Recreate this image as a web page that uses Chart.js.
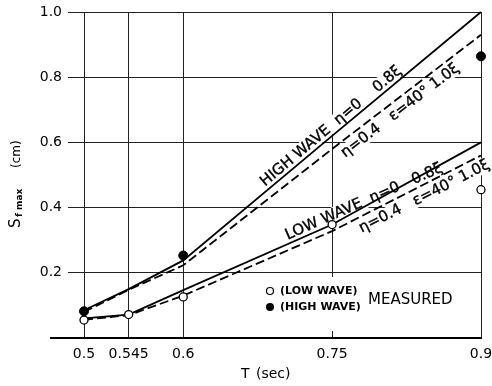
<!DOCTYPE html>
<html>
<head>
<meta charset="utf-8">
<script src="https://cdn.jsdelivr.net/npm/chart.js@4.4.0/dist/chart.umd.min.js"></script>
<style>
  html, body { margin: 0; padding: 0; background: #fff; }
  #wrap { width: 492px; height: 386px; }
</style>
</head>
<body>
<div id="wrap"><canvas id="c" width="492" height="386"></canvas></div>
<script>
// T (sec) and the calculated curves
const periods = [0.5, 0.545, 0.6, 0.75, 0.9];
const xTicks = [0.5, 0.545, 0.6, 0.75, 0.9];
const xTickLabels = ['0.5', '0.545', '0.6', '0.75', '0.9'];
const yTicks = [0, 0.2, 0.4, 0.6, 0.8, 1.0];
const yTickLabels = ['', '0.2', '0.4', '0.6', '0.8', '1.0'];

const highEta0 = [0.085, 0.15, 0.238, 0.62, 1.0];
const highEta04 = [0.08, 0.148, 0.223, 0.58, 0.93];
const lowEta0 = [0.06, 0.072, 0.147, 0.348, 0.6];
const lowEta04 = [0.056, 0.07, 0.13, 0.328, 0.56];

// measured points
const lowMeasuredT = [0.5, 0.545, 0.6, 0.75, 0.9];
const lowMeasured = [0.055, 0.072, 0.126, 0.348, 0.455];
const highMeasuredT = [0.5, 0.6, 0.9];
const highMeasured = [0.082, 0.253, 0.864];

const FONT = '"DejaVu Sans", sans-serif';

const toPts = (xs, ys) => xs.map((x, i) => ({ x: x, y: ys[i] }));

// labels written along the curves
const curveLabels = [
  { ys: highEta0, t: 0.685, text: 'HIGH WAVE  η=0    0.8ξ', side: 'above' },
  { ys: highEta04, t: 0.754, text: 'η=0.4   ε=40° 1.0ξ', side: 'below' },
  { ys: lowEta0, t: 0.707, text: 'LOW WAVE  η=0   0.8ξ', side: 'above' },
  { ys: lowEta04, t: 0.773, text: 'η=0.4   ε=40° 1.0ξ', side: 'below' },
];

function pointOn(chart, ys, t) {
  const xs = chart.scales.x, sy = chart.scales.y;
  let i = 0;
  while (i < periods.length - 2 && t > periods[i + 1]) i++;
  const x0 = xs.getPixelForValue(periods[i]), y0 = sy.getPixelForValue(ys[i]);
  const x1 = xs.getPixelForValue(periods[i + 1]), y1 = sy.getPixelForValue(ys[i + 1]);
  const f = (t - periods[i]) / (periods[i + 1] - periods[i]);
  return { px: x0 + f * (x1 - x0), py: y0 + f * (y1 - y0), ang: Math.atan2(y1 - y0, x1 - x0) };
}

const decor = {
  id: 'decor',
  beforeDatasetsDraw(chart) {
    const ctx = chart.ctx;
    const area = chart.chartArea;
    ctx.save();
    // axis line runs a bit past the left edge
    ctx.strokeStyle = '#000';
    ctx.lineWidth = 2;
    ctx.beginPath();
    ctx.moveTo(50, area.bottom);
    ctx.lineTo(area.left, area.bottom);
    ctx.stroke();

    // curve labels on white patches
    curveLabels.forEach(l => {
      const p = pointOn(chart, l.ys, l.t);
      ctx.save();
      ctx.translate(p.px, p.py);
      ctx.rotate(p.ang);
      ctx.font = '15px ' + FONT;
      const w = ctx.measureText(l.text).width;
      const base = l.side === 'above' ? -4 : 15;
      ctx.fillStyle = '#fff';
      ctx.fillRect(-2, base - 12, w + 4, 15);
      ctx.fillStyle = '#000';
      ctx.strokeStyle = '#000';
      ctx.lineWidth = 0.35;
      ctx.textBaseline = 'alphabetic';
      ctx.fillText(l.text, 0, base);
      ctx.strokeText(l.text, 0, base);
      ctx.restore();
    });

    // legend box
    ctx.fillStyle = '#fff';
    ctx.fillRect(252, 277, 220, 54);
    ctx.strokeStyle = '#000';
    ctx.lineWidth = 1.2;
    ctx.beginPath();
    ctx.arc(270, 291, 3.5, 0, Math.PI * 2);
    ctx.stroke();
    ctx.fillStyle = '#000';
    ctx.beginPath();
    ctx.arc(270, 307, 4, 0, Math.PI * 2);
    ctx.fill();
    ctx.font = 'bold 11px ' + FONT;
    ctx.textBaseline = 'middle';
    ctx.textAlign = 'left';
    ctx.fillText('(LOW WAVE)', 280, 291);
    ctx.fillText('(HIGH WAVE)', 280, 307);
    ctx.font = '15px ' + FONT;
    ctx.fillText('MEASURED', 368, 300);

    // axis titles
    ctx.font = '14px ' + FONT;
    ctx.fillText('T', 241, 374);
    ctx.fillText('(sec)', 256, 374);

    ctx.translate(20, 228);
    ctx.rotate(-Math.PI / 2);
    ctx.textBaseline = 'alphabetic';
    ctx.font = '15px ' + FONT;
    ctx.fillText('S', 0, 0);
    ctx.font = 'bold 9px ' + FONT;
    ctx.fillText('f max', 11, 2);
    ctx.font = '12px ' + FONT;
    ctx.fillText('(cm)', 60, 0);
    ctx.restore();
  }
};

const lineDs = (label, ys, dash) => ({
  label: label,
  data: toPts(periods, ys),
  showLine: true,
  borderColor: '#000',
  borderWidth: 1.8,
  borderDash: dash,
  pointRadius: 0,
  order: 2,
  clip: false
});

new Chart(document.getElementById('c'), {
  type: 'scatter',
  data: {
    datasets: [
      lineDs('High wave η=0 0.8ξ', highEta0, []),
      lineDs('High wave η=0.4 ε=40° 1.0ξ', highEta04, [9, 4]),
      lineDs('Low wave η=0 0.8ξ', lowEta0, []),
      lineDs('Low wave η=0.4 ε=40° 1.0ξ', lowEta04, [9, 4]),
      {
        label: '(LOW WAVE) measured',
        data: toPts(lowMeasuredT, lowMeasured),
        showLine: false,
        pointRadius: 4,
        pointBackgroundColor: '#fff',
        pointBorderColor: '#000',
        pointBorderWidth: 1.3,
        order: 0,
        clip: false
      },
      {
        label: '(HIGH WAVE) measured',
        data: toPts(highMeasuredT, highMeasured),
        showLine: false,
        pointRadius: 4.5,
        pointBackgroundColor: '#000',
        pointBorderColor: '#000',
        pointBorderWidth: 1,
        order: 0,
        clip: false
      }
    ]
  },
  options: {
    responsive: false,
    animation: false,
    devicePixelRatio: 1,
    layout: { padding: { top: 12, right: 11, left: 0, bottom: 0 } },
    plugins: { legend: { display: false }, tooltip: { enabled: false } },
    scales: {
      x: {
        type: 'linear',
        min: 0.5,
        max: 0.9,
        afterBuildTicks: s => { s.ticks = xTicks.map(v => ({ value: v })); },
        afterFit: s => { s.height = 48; s.paddingLeft = 0; s.paddingRight = 0; },
        ticks: {
          callback: (v, i) => xTickLabels[i],
          font: { family: 'DejaVu Sans', size: 14 },
          color: '#000',
          padding: 8,
          maxRotation: 0,
          autoSkip: false
        },
        grid: { color: '#222', lineWidth: 1, drawTicks: false },
        border: { display: true, color: '#000', width: 2 }
      },
      y: {
        min: 0,
        max: 1,
        afterBuildTicks: s => { s.ticks = yTicks.map(v => ({ value: v })); },
        afterFit: s => { s.width = 84; s.paddingTop = 0; s.paddingBottom = 0; },
        ticks: {
          callback: (v, i) => yTickLabels[i],
          font: { family: 'DejaVu Sans', size: 14 },
          color: '#000',
          padding: 6,
          autoSkip: false
        },
        grid: { color: '#222', lineWidth: 1, drawTicks: true, tickLength: 16 },
        border: { display: false }
      }
    }
  },
  plugins: [decor]
});
</script>
</body>
</html>
